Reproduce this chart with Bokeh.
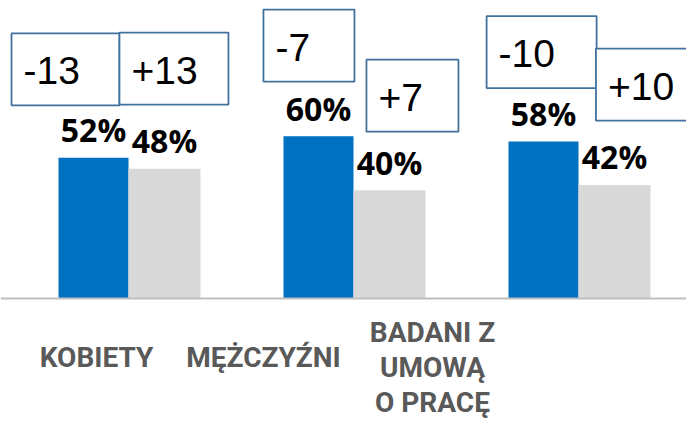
from bokeh.plotting import figure
from bokeh.models import Range1d, Span
from bokeh.core.properties import value
from bokeh.embed import file_html
from bokeh.resources import INLINE

# ---- data ----
categories = ["KOBIETY", "MĘŻCZYŹNI", "BADANI Z\nUMOWĄ\nO PRACĘ"]
share_a = [52, 60, 58]      # blue series (%)
share_b = [48, 40, 42]      # grey series (%)
delta_a = [-13, -7, -10]    # change labels for blue series
delta_b = [13, 7, 10]       # change labels for grey series

# ---- layout (not data) ----
W, H = 686, 421
X0, X1 = -128 / 225, (W - 128) / 225
Y0, Y1 = -(H - 298) / 2.705, 298 / 2.705
PX = (X1 - X0) / W          # data units per pixel (x)
PY = (Y1 - Y0) / H          # data units per pixel (y)

BLUE = "#0070C0"
GREY = "#D9D9D9"
BOX_LINE = "#41719C"
LABEL_FONT = value("Roboto")

bar_a_dx, bar_b_dx = -35 * PX, 36 * PX
bar_a_w, bar_b_w = 70 * PX, 72 * PX

# callout boxes: centre offset from category (x, data), centre y (data), width px
box_a_dx = [-0.280, -0.198, -0.164]
box_a_cy = [84.7, 93.5, 91.1]
box_a_w = [108, 91, 110]
box_b_dx = [0.202, 0.262, 0.322]
box_b_cy = [85.0, 75.0, 79.1]
box_b_w = [109, 92, 110]
BOX_H = 72

label_x = [-0.142, 0.600, 1.351]
label_first_baseline_px = [370, 370, 345]   # pixel y of first line baseline
LINE_PX = 35

p = figure(width=W, height=H, output_backend="svg", toolbar_location=None,
           x_range=Range1d(X0, X1), y_range=Range1d(Y0, Y1),
           min_border=0, outline_line_color=None)
p.xaxis.visible = False
p.yaxis.visible = False
p.xgrid.visible = False
p.ygrid.visible = False
p.background_fill_color = "white"
p.border_fill_color = "white"

idx = list(range(len(categories)))

# bars
p.vbar(x=[i + bar_a_dx for i in idx], top=share_a, bottom=0, width=bar_a_w,
       fill_color=BLUE, line_color=None)
p.vbar(x=[i + bar_b_dx for i in idx], top=share_b, bottom=0, width=bar_b_w,
       fill_color=GREY, line_color=None)

# baseline
p.add_layout(Span(location=0, dimension="width", line_color="#BFBFBF", line_width=2))

# value labels
lab_off = 28 * PY
for dx, vals in [(bar_a_dx, share_a), (bar_b_dx, share_b)]:
    p.text(x=[i + dx for i in idx], y=[v + lab_off for v in vals],
           text=[f"{v}%" for v in vals], text_align="center", text_baseline="alphabetic",
           text_font=value("Open Sans"), text_font_style="bold", text_font_size="32px",
           text_color="black")

# callout boxes
def fmt(d):
    return f"+{d}" if d > 0 else f"{d}"

for dxs, cys, ws, deltas in [(box_a_dx, box_a_cy, box_a_w, delta_a),
                             (box_b_dx, box_b_cy, box_b_w, delta_b)]:
    cx = [i + dx for i, dx in zip(idx, dxs)]
    p.rect(x=cx, y=cys, width=ws, height=[BOX_H] * 3,
           width_units="screen", height_units="screen",
           fill_color="white", line_color=BOX_LINE, line_width=1.8)
    tx = [c - (w / 2 - 12) * PX for c, w in zip(cx, ws)]
    ty = [c - 1.5 * PY for c in cys]
    p.text(x=tx, y=ty, text=[fmt(d) for d in deltas], text_align="left",
           text_baseline="alphabetic", text_font=value("Liberation Sans"),
           text_font_size="39px", text_color="black")

# category labels
lx, ly, lt = [], [], []
for i, cat in enumerate(categories):
    for j, line in enumerate(cat.split("\n")):
        ref_y = label_first_baseline_px[i] + j * LINE_PX - 13
        lx.append(label_x[i])
        ly.append(-(ref_y - 298) * PY)
        lt.append(line)
p.text(x=lx, y=ly, text=lt, text_align="center", text_baseline="alphabetic",
       text_font=LABEL_FONT, text_font_style="bold",
       text_font_size="28px", text_color="#595959")

open("out.html", "w").write(file_html(p, INLINE))
